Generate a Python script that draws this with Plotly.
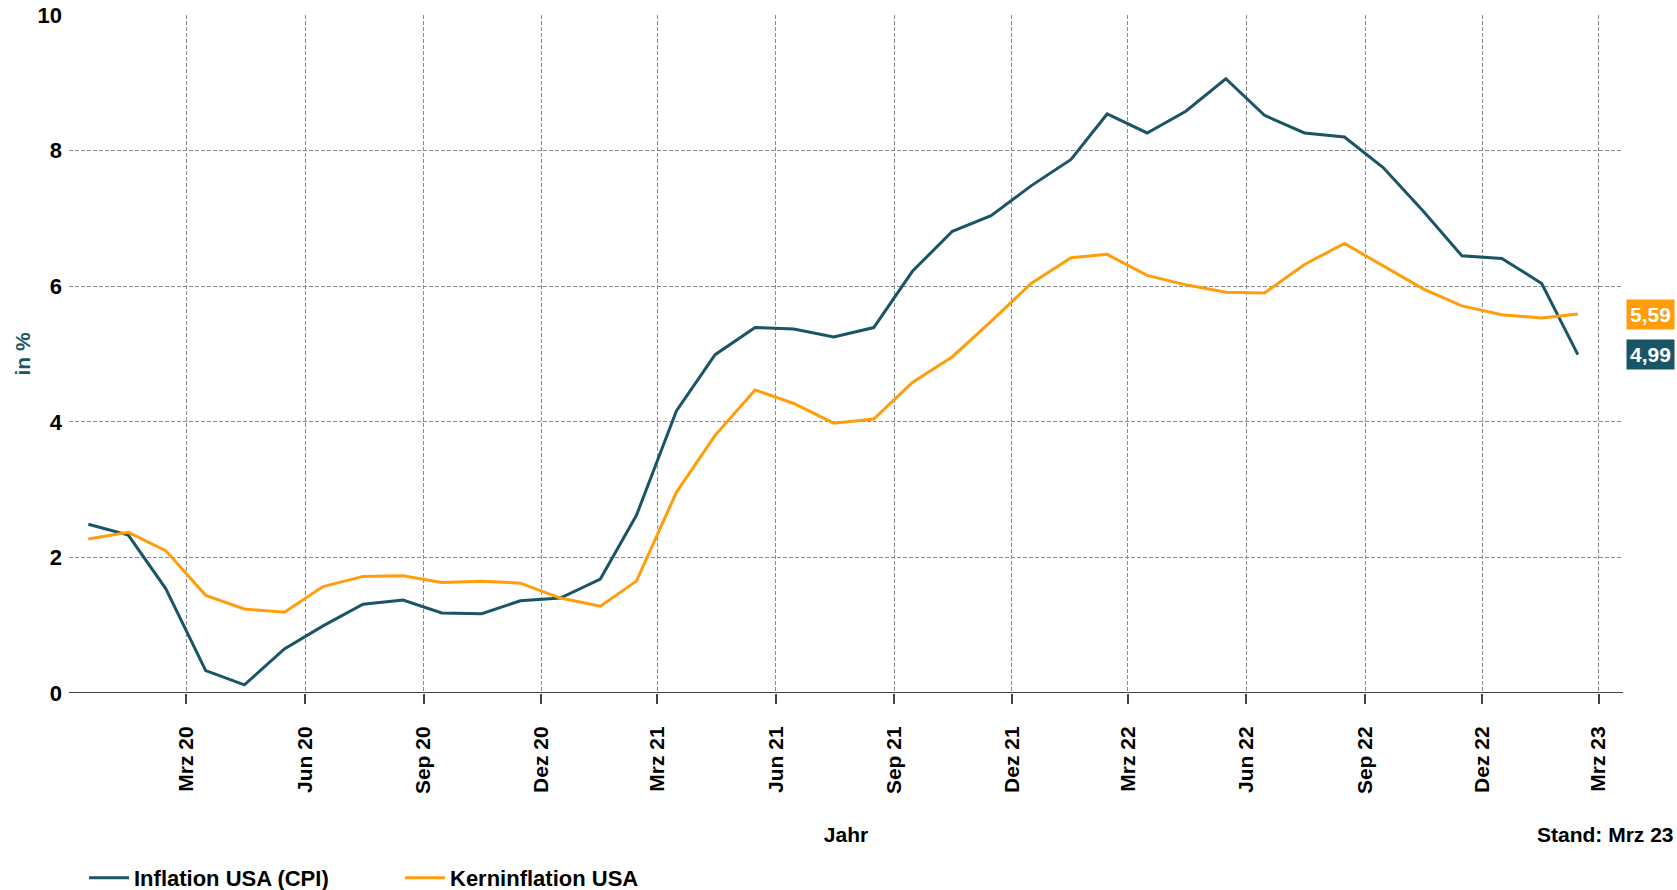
import plotly.graph_objects as go

months = ["2020-01", "2020-02", "2020-03", "2020-04", "2020-05", "2020-06", "2020-07", "2020-08",
          "2020-09", "2020-10", "2020-11", "2020-12", "2021-01", "2021-02", "2021-03", "2021-04",
          "2021-05", "2021-06", "2021-07", "2021-08", "2021-09", "2021-10", "2021-11", "2021-12",
          "2022-01", "2022-02", "2022-03", "2022-04", "2022-05", "2022-06", "2022-07", "2022-08",
          "2022-09", "2022-10", "2022-11", "2022-12", "2023-01", "2023-02", "2023-03"]
cpi = [2.49, 2.33, 1.54, 0.33, 0.12, 0.65, 0.99, 1.31, 1.37, 1.18, 1.17, 1.36, 1.40, 1.68, 2.62,
       4.16, 4.99, 5.39, 5.37, 5.25, 5.39, 6.22, 6.81, 7.04, 7.48, 7.87, 8.54, 8.26, 8.58, 9.06,
       8.52, 8.26, 8.20, 7.75, 7.11, 6.45, 6.41, 6.04, 4.99]
core = [2.27, 2.37, 2.10, 1.44, 1.24, 1.19, 1.57, 1.72, 1.73, 1.63, 1.65, 1.62, 1.40, 1.28, 1.65,
        2.96, 3.80, 4.47, 4.27, 3.98, 4.04, 4.58, 4.96, 5.48, 6.04, 6.42, 6.47, 6.16, 6.02, 5.91,
        5.90, 6.32, 6.63, 6.30, 5.96, 5.71, 5.58, 5.53, 5.59]
tick_months = ["2020-03", "2020-06", "2020-09", "2020-12", "2021-03", "2021-06", "2021-09", "2021-12",
               "2022-03", "2022-06", "2022-09", "2022-12", "2023-03"]
tick_labels = ["Mrz 20", "Jun 20", "Sep 20", "Dez 20", "Mrz 21", "Jun 21", "Sep 21", "Dez 21",
               "Mrz 22", "Jun 22", "Sep 22", "Dez 22", "Mrz 23"]
series_names = ["Inflation USA (CPI)", "Kerninflation USA"]
last_labels = ["4,99", "5,59"]

TEAL = "#1A5566"
ORANGE = "#FF9D0A"
FONT = "Liberation Sans, Arial, sans-serif"
GRID = "#8a8a8a"

x = [m + "-01" for m in months]
tickvals = [m + "-17" for m in tick_months]

fig = go.Figure()
fig.add_trace(go.Scatter(x=x, y=cpi, mode="lines", name=series_names[0],
                         line=dict(color=TEAL, width=3)))
fig.add_trace(go.Scatter(x=x, y=core, mode="lines", name=series_names[1],
                         line=dict(color=ORANGE, width=3)))

fig.update_layout(
    width=1677, height=890,
    margin=dict(l=69, r=54, t=15, b=197),
    plot_bgcolor="white", paper_bgcolor="white",
    font=dict(family=FONT, size=21, color="black"),
    showlegend=True,
    legend=dict(orientation="h", x=84 / 1677, xref="container", y=12 / 890, yref="container",
                xanchor="left", yanchor="middle",
                font=dict(family=FONT, size=22, color="black", weight="bold"),
                itemwidth=40, tracegroupgap=0,
                entrywidth=261, entrywidthmode="pixels"),
    xaxis=dict(
        type="date", range=["2019-12-17", "2023-04-05"], automargin=False,
        tickvals=tickvals, ticktext=[f"<b>{t}</b>" for t in tick_labels],
        tickangle=-90, ticks="outside", ticklen=10, tickwidth=2, tickcolor="#444",
        ticklabelstandoff=14,
        showgrid=True, gridcolor=GRID, gridwidth=1, griddash="4px,2px",
        showline=False, zeroline=False,
        title=dict(text="<b>Jahr</b>", font=dict(size=21, color="black"), standoff=34),
        tickfont=dict(size=21, color="black"),
    ),
    yaxis=dict(
        range=[0, 10], tickvals=[0, 2, 4, 6, 8, 10], automargin=False,
        ticktext=["<b>0</b>", "<b>2</b>", "<b>4</b>", "<b>6</b>", "<b>8</b>", "<b>10</b>"],
        showgrid=True, gridcolor=GRID, gridwidth=1, griddash="4px,2px",
        zeroline=False, showline=False, ticks="", ticklabelstandoff=6,
        tickfont=dict(size=22, color="black"),
        title=dict(text="<b>in %</b>", font=dict(size=21, color=TEAL), standoff=1),
    ),
)

# solid baseline at 0
fig.add_shape(type="line", xref="paper", yref="y", x0=0, x1=1, y0=0, y1=0,
              line=dict(color="#444", width=2), layer="below")

# last value labels
for val, lab, col in [(cpi[-1], last_labels[0], TEAL), (core[-1], last_labels[1], ORANGE)]:
    fig.add_annotation(xref="paper", yref="y", x=1.0, y=val, xanchor="left", xshift=3,
                       text=f"<b>{lab}</b>", showarrow=False,
                       font=dict(size=21, color="white", family=FONT),
                       bgcolor=col, borderpad=3)

fig.add_annotation(xref="paper", yref="paper", x=1.0, y=0, xanchor="right", yanchor="middle",
                   xshift=53, yshift=-141, text="<b>Stand: Mrz 23</b>", showarrow=False,
                   font=dict(size=21, color="black", family=FONT))

fig.write_html("out.html", config={"displayModeBar": False},
               post_script="document.body.style.margin='0';document.body.style.overflow='hidden';")
